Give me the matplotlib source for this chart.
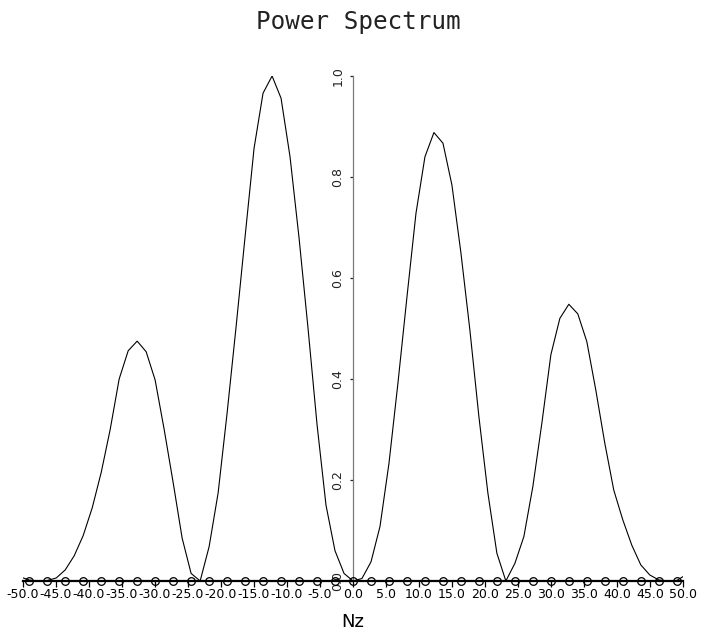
import matplotlib
matplotlib.use("Agg")
import matplotlib.pyplot as plt

# frequency grid of the curve (Nz) and normalised power
nz = [-50.41, -49.05, -47.69, -46.33, -44.96, -43.60, -42.24, -40.88, -39.51, -38.15,
      -36.79, -35.43, -34.06, -32.70, -31.34, -29.98, -28.61, -27.25, -25.89, -24.53,
      -23.16, -21.80, -20.44, -19.08, -17.71, -16.35, -14.99, -13.63, -12.26, -10.90,
      -9.54, -8.18, -6.81, -5.45, -4.09, -2.73, -1.36, 0.0,
      1.36, 2.73, 4.09, 5.45, 6.81, 8.18, 9.54, 10.90, 12.26, 13.63,
      14.99, 16.35, 17.71, 19.08, 20.44, 21.80, 23.16, 24.53, 25.89, 27.25,
      28.61, 29.98, 31.34, 32.70, 34.06, 35.43, 36.79, 38.15, 39.51, 40.88,
      42.24, 43.60, 44.96, 46.33, 47.69, 49.05, 50.41]

power = [0.008, 0.002, 0.000, 0.001, 0.006, 0.022, 0.050, 0.090, 0.145, 0.215,
         0.300, 0.400, 0.456, 0.475, 0.454, 0.398, 0.300, 0.195, 0.085, 0.015,
         0.000, 0.068, 0.174, 0.332, 0.504, 0.682, 0.857, 0.966, 1.000, 0.956,
         0.840, 0.680, 0.500, 0.310, 0.150, 0.060, 0.015, 0.000,
         0.005, 0.038, 0.108, 0.233, 0.392, 0.563, 0.728, 0.840, 0.888, 0.867,
         0.784, 0.650, 0.497, 0.325, 0.174, 0.055, 0.000, 0.035, 0.088, 0.187,
         0.312, 0.448, 0.520, 0.548, 0.529, 0.474, 0.378, 0.273, 0.180, 0.121,
         0.071, 0.032, 0.012, 0.002, 0.000, 0.001, 0.012]

# sample frequencies marked with circles on the baseline
samples = [-49.05, -46.33, -43.60, -40.88, -38.15, -35.43, -32.70, -29.98, -27.25,
           -24.53, -21.80, -19.08, -16.35, -13.63, -10.90, -8.18, -5.45, -2.73, 0.0,
           2.73, 5.45, 8.18, 10.90, 13.63, 16.35, 19.08, 21.80, 24.53, 27.25,
           29.98, 32.70, 35.43, 38.15, 40.88, 43.60, 46.33, 49.05]
sample_level = [0.0] * len(samples)

xticks = [-50, -45, -40, -35, -30, -25, -20, -15, -10, -5, 0,
          5, 10, 15, 20, 25, 30, 35, 40, 45, 50]
yticks = [0.0, 0.2, 0.4, 0.6, 0.8, 1.0]

W, H = 701, 636
fig = plt.figure(figsize=(W / 100, H / 100), dpi=100)
ax = fig.add_axes([23 / W, (H - 581) / H, 660 / W, 505 / H])

ax.plot(nz, power, color="black", linewidth=0.8)
ax.plot(samples, sample_level, linestyle="none", marker="o", markersize=5.5,
        markerfacecolor="none", markeredgecolor="black", markeredgewidth=0.9,
        clip_on=False, zorder=3)

ax.set_xlim(-50, 50)
ax.set_ylim(0, 1)

for side in ("top", "right"):
    ax.spines[side].set_visible(False)
ax.spines["bottom"].set_linewidth(1.6)
ax.spines["bottom"].set_color("black")
ax.spines["left"].set_position(("data", 0))
ax.spines["left"].set_color("#7a7a7a")
ax.spines["left"].set_linewidth(0.9)

ax.set_xticks(xticks)
ax.set_xticklabels([f"{v:.1f}" for v in xticks])
ax.set_yticks(yticks)
ax.set_yticklabels([f"{v:.1f}" for v in yticks], rotation=90, va="center")

ax.tick_params(axis="x", direction="out", length=4.5, width=0.9, pad=0.5,
               labelsize=9, colors="black")
ax.tick_params(axis="y", direction="out", length=2.2, width=0.9, pad=4,
               labelsize=9, colors="#222222")

ax.set_xlabel("Nz", fontsize=13, labelpad=9)
fig.text(358 / W, 1 - 22 / H, "Power Spectrum", ha="center", va="center",
         fontsize=17.5, family="DejaVu Sans Mono", color="#222222")

fig.savefig("out.png", dpi=100)
